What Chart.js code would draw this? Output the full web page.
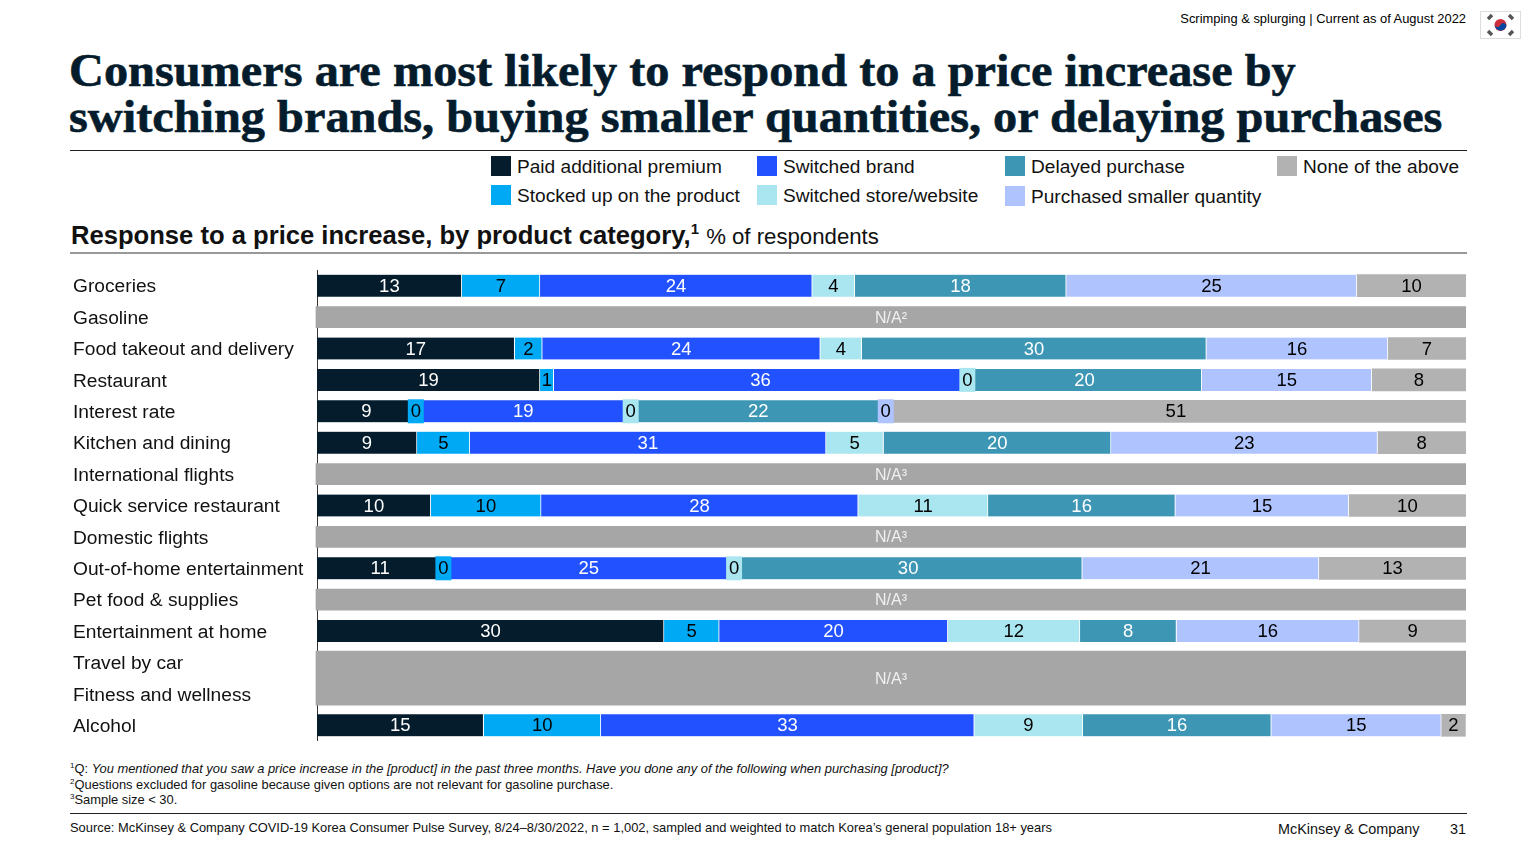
<!DOCTYPE html>
<html>
<head>
<meta charset="utf-8">
<title>Response to a price increase</title>
<script src="https://cdn.jsdelivr.net/npm/chart.js@4"></script>
<style>
    html, body { margin: 0; padding: 0; background: #fff; width: 1536px; height: 864px; overflow: hidden; }
    body { font-family: "Liberation Sans", Arial, sans-serif; color: #000; position: relative; }
    .abs { position: absolute; white-space: nowrap; }
    .title { left: 69px; top: 48px; font: bold 45.5px/45.5px "Liberation Serif", serif; color: #051c2c; -webkit-text-stroke: 0.6px #051c2c; transform: scaleX(1.062); transform-origin: left top; }
    .rule { position: absolute; left: 70px; width: 1397px; }
    .swatch { position: absolute; width: 20px; height: 20px; }
    .legend-text { font-size: 19.1px; line-height: 22px; color: #111; }
    .subtitle { left: 71px; top: 220px; font-size: 25.6px; line-height: 30px; font-weight: bold; color: #111; }
    .subtitle sup { font-size: 15px; line-height: 0; }
    .subtitle span { font-size: 22.2px; font-weight: normal; }
    .note { left: 70px; font-size: 12.9px; line-height: 15px; color: #111; }
    .note sup { font-size: 8px; line-height: 0; }
    canvas { position: absolute; left: 73px; top: 270px; }
</style>
</head>
<body>
<div class="abs" style="right:70px;top:11px;font-size:12.9px;line-height:15px;">Scrimping &amp; splurging | Current as of August 2022</div>
<svg class="abs" style="left:1480px;top:11px" width="41" height="28" viewBox="0 0 41 28">
    <rect x="0.5" y="0.5" width="40" height="27" fill="#fff" stroke="#ddd"/>
    <circle cx="20.5" cy="14" r="6" fill="#cd2e3a"/>
    <path d="M14.8 12.2a6 6 0 0 0 11.4 3.6a3 3 0 0 0-5.7-1.8a3 3 0 0 1-5.7-1.8z" fill="#0047a0"/>
    <g stroke="#555" stroke-width="3.4" fill="none">
        <path d="M8 8l4-4M29 4l4 4M8 20l4 4M29 24l4-4"/>
    </g>
</svg>
<div class="abs title">Consumers are most likely to respond to a price increase by<br>switching brands, buying smaller quantities, or delaying purchases</div>
<div class="rule" style="top:150px;height:1px;background:#222"></div>
<div id="legend"></div>
<div class="abs subtitle">Response to a price increase, by product category,<sup>1</sup> <span>% of respondents</span></div>
<div class="rule" style="top:252px;height:2px;background:#999"></div>
<canvas id="responseChart" width="1393" height="471"></canvas>
<div class="abs note" style="top:761px"><sup>1</sup>Q: <i>You mentioned that you saw a price increase in the [product] in the past three months. Have you done any of the following when purchasing [product]?</i></div>
<div class="abs note" style="top:777px"><sup>2</sup>Questions excluded for gasoline because given options are not relevant for gasoline purchase.</div>
<div class="abs note" style="top:792px"><sup>3</sup>Sample size &lt; 30.</div>
<div class="rule" style="top:813px;height:1px;background:#222"></div>
<div class="abs note" style="top:820px">Source: McKinsey &amp; Company COVID-19 Korea Consumer Pulse Survey, 8/24–8/30/2022, n = 1,002, sampled and weighted to match Korea’s general population 18+ years</div>
<div class="abs" style="left:1278px;top:821px;font-size:14.4px;line-height:16px;color:#111">McKinsey &amp; Company</div>
<div class="abs" style="right:70px;top:821px;font-size:14.4px;line-height:16px;color:#111">31</div>

<script>
// ------------------- Data -------------------
const categories = ['Groceries', 'Gasoline', 'Food takeout and delivery', 'Restaurant', 'Interest rate',
    'Kitchen and dining', 'International flights', 'Quick service restaurant', 'Domestic flights',
    'Out-of-home entertainment', 'Pet food & supplies', 'Entertainment at home', 'Travel by car',
    'Fitness and wellness', 'Alcohol'];

// rows that have answers, index into categories
const answeredRows = [0, 2, 3, 4, 5, 7, 9, 11, 14];

const paidPremium = [12.6, 17.2, 19.4, 8.6, 8.7, 9.9, 11.0, 30.2, 14.5];
const stockedUp = [6.8, 2.4, 1.2, 0, 4.6, 9.6, 0, 4.8, 10.2];
const switchedBrand = [23.7, 24.2, 36.0, 18.7, 31.0, 27.6, 25.3, 19.9, 32.5];
const switchedStore = [3.7, 3.6, 0, 0, 5.0, 11.3, 0, 11.5, 9.45];
const delayedPurchase = [18.4, 30.0, 20.4, 22.2, 19.8, 16.3, 30.3, 8.4, 16.4];
const smallerQuantity = [25.3, 15.8, 14.8, 0, 23.2, 15.1, 20.6, 15.9, 14.8];
const noneOfAbove = [9.5, 6.8, 8.2, 50.5, 7.7, 10.2, 12.8, 9.3, 2.1];

const seriesNames = ['Paid additional premium', 'Stocked up on the product', 'Switched brand', 'Switched store/website',
    'Delayed purchase', 'Purchased smaller quantity', 'None of the above'];
const seriesValues = [paidPremium, stockedUp, switchedBrand, switchedStore, delayedPurchase, smallerQuantity, noneOfAbove];
const seriesColors = ['#051c2c', '#00a9f4', '#2251ff', '#aae6f0', '#3c96b4', '#afc3ff', '#b2b2b2'];
const seriesTextColors = ['#fff', '#000', '#fff', '#000', '#fff', '#000', '#000'];

// N/A rows, the last one sits across Travel by car and Fitness and wellness
const naRows = [1, 6, 8, 10];
const naNotes = ['N/A²', 'N/A³', 'N/A³', 'N/A³'];
const naMergedRow = 12.5;
const naMergedNote = 'N/A³';

// ------------------- Legend -------------------
const legendSlots = [[491, 156], [491, 185], [757, 156], [757, 185], [1005, 156], [1005, 186], [1277, 156]];
const legendEl = document.getElementById('legend');
seriesNames.forEach((name, i) => {
    const [x, y] = legendSlots[i];
    legendEl.innerHTML += `<div class="swatch" style="left:${x}px;top:${y}px;background:${seriesColors[i]}"></div>` +
        `<div class="abs legend-text" style="left:${x + 26}px;top:${y}px">${name}</div>`;
});

// ------------------- Value labels -------------------
const valueLabels = {
    id: 'valueLabels',
    afterDatasetsDraw(chart) {
        const ctx = chart.ctx;
        ctx.save();
        ctx.textAlign = 'center';
        ctx.textBaseline = 'middle';
        chart.data.datasets.forEach((dataset, d) => {
            chart.getDatasetMeta(d).data.forEach((bar, i) => {
                if (dataset.notes) {
                    ctx.font = '16px "Liberation Sans"';
                    ctx.fillStyle = '#f0f0f0';
                    ctx.fillText(dataset.notes[i], bar.x / 2 + bar.base / 2, bar.y + 1);
                    return;
                }
                const value = Math.round(dataset.data[i].x);
                const cx = (bar.x + bar.base) / 2;
                // zero answers still get a small coloured tag
                if (value === 0) {
                    ctx.fillStyle = dataset.backgroundColor;
                    ctx.fillRect(cx - 8, bar.y - 12, 16, 24);
                }
                ctx.font = '18.5px "Liberation Sans"';
                ctx.fillStyle = dataset.labelColor;
                ctx.fillText(value, cx, bar.y + 1);
            });
        });
        ctx.restore();
    }
};

// ------------------- Chart -------------------
function buildDatasets() {
    const datasets = seriesNames.map((name, s) => ({
        label: name,
        data: answeredRows.map((row, i) => ({ x: seriesValues[s][i], y: row })),
        backgroundColor: seriesColors[s],
        labelColor: seriesTextColors[s],
        borderColor: '#fff',
        borderWidth: { right: s < seriesNames.length - 1 ? 1 : 0 },
        borderSkipped: false,
        barThickness: 22
    }));
    datasets.push({
        label: 'N/A',
        data: naRows.map(row => ({ x: [-0.09, 100], y: row })),
        notes: naNotes,
        backgroundColor: '#a6a6a6',
        barThickness: 21,
        clip: false
    });
    datasets.push({
        label: 'N/A merged',
        data: [{ x: [-0.09, 100], y: naMergedRow }],
        notes: [naMergedNote],
        backgroundColor: '#a6a6a6',
        barThickness: 54,
        clip: false
    });
    return datasets;
}

new Chart(document.getElementById('responseChart').getContext('2d'), {
    type: 'bar',
    data: { datasets: buildDatasets() },
    plugins: [valueLabels],
    options: {
        indexAxis: 'y',
        responsive: false,
        animation: false,
        layout: { padding: 0 },
        plugins: { legend: { display: false }, tooltip: { enabled: false } },
        scales: {
            x: { stacked: true, min: 0, max: 100, display: false },
            y: {
                type: 'linear',
                stacked: true,
                reverse: true,
                offset: false,
                min: -0.5,
                max: 14.5,
                afterBuildTicks: scale => { scale.ticks = categories.map((c, i) => ({ value: i })); },
                afterFit: scale => {
                    scale.width = 244;
                    scale.paddingTop = 0;
                    scale.paddingBottom = 0;
                },
                grid: { display: false, drawTicks: false, offset: false },
                border: { display: true, color: '#333', width: 1 },
                ticks: {
                    autoSkip: false,
                    crossAlign: 'far',
                    padding: 0,
                    labelOffset: 1.5,
                    color: '#111',
                    font: { family: '"Liberation Sans"', size: 19.2 },
                    callback: value => categories[value]
                }
            }
        }
    }
});
</script>
</body>
</html>
